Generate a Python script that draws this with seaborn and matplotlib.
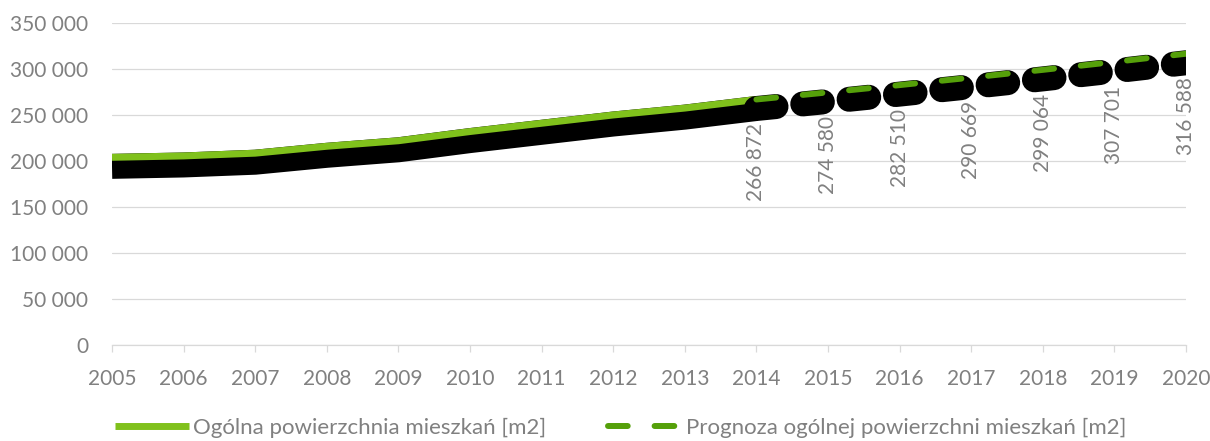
import matplotlib
matplotlib.use('Agg')
import matplotlib.pyplot as plt
import matplotlib.patheffects as pe
from matplotlib.lines import Line2D
from matplotlib.ticker import FuncFormatter
import seaborn as sns
import pandas as pd

# Data
hist_years = [2005, 2006, 2007, 2008, 2009, 2010, 2011, 2012, 2013, 2014]
hist_values = [204000, 205500, 208500, 216000, 222000, 232000, 241000, 250000, 257500, 266872]
forecast_years = [2014, 2015, 2016, 2017, 2018, 2019, 2020]
forecast_values = [266872, 274580, 282510, 290669, 299064, 307701, 316588]
year_ticks = list(range(2005, 2021))
label_hist = 'Ogólna powierzchnia mieszkań [m2]'
label_forecast = 'Prognoza ogólnej powierzchni mieszkań [m2]'

hist = pd.DataFrame({'year': hist_years, 'value': hist_values})
forecast = pd.DataFrame({'year': forecast_years, 'value': forecast_values})

sns.set_theme(style='white')
plt.rcParams['font.family'] = ['Lato', 'DejaVu Sans']

green_light = '#80C11C'
green_dark = '#55A00A'
gray_text = '#808080'
grid_color = '#d9d9d9'


def space_thousands(v, pos=None):
    return f'{int(round(v)):,}'.replace(',', ' ')


fig = plt.figure(figsize=(12.1, 4.41), dpi=100)
ax = fig.add_axes([112 / 1210, 96 / 441, 1074 / 1210, 322 / 441])

# black shadow under the lines (like the Excel effect)
sns.lineplot(data=hist, x='year', y='value', ax=ax, color=green_light, lw=5,
             solid_capstyle='butt', zorder=3,
             path_effects=[pe.Stroke(linewidth=18, foreground='black', offset=(0, -6.5)), pe.Normal()])
sns.lineplot(data=forecast, x='year', y='value', ax=ax, color=green_dark, lw=4.3,
             linestyle=(0, (3.3, 4.5)), dash_capstyle='round', zorder=4,
             path_effects=[pe.Stroke(linewidth=18, foreground='black', offset=(0, -6.5),
                                     capstyle='round'), pe.Normal()])

# data labels for the forecast
for x, y in zip(forecast_years, forecast_values):
    ax.annotate(space_thousands(y), xy=(x, y), xytext=(0, -17), textcoords='offset points',
                rotation=90, ha='center', va='top', fontsize=15, color=gray_text, zorder=5)

ax.set_xlim(2005, 2020)
ax.set_ylim(0, 350000)
ax.set_xticks(year_ticks)
ax.set_yticks(range(0, 350001, 50000))
ax.yaxis.set_major_formatter(FuncFormatter(space_thousands))
ax.set_xlabel('')
ax.set_ylabel('')

ax.grid(axis='y', color=grid_color, lw=0.9, zorder=0)
ax.grid(axis='x', visible=False)
for s in ['top', 'right', 'left']:
    ax.spines[s].set_visible(False)
ax.spines['bottom'].set_color(grid_color)
ax.spines['bottom'].set_linewidth(0.9)

ax.tick_params(axis='x', length=5, width=0.9, color=grid_color, pad=12, labelsize=15,
               labelcolor=gray_text, bottom=True)
ax.tick_params(axis='y', length=0, pad=17, labelsize=15, labelcolor=gray_text)

# legend without the shadow
handles = [Line2D([], [], color=green_light, lw=5, solid_capstyle='butt'),
           Line2D([], [], color=green_dark, lw=4.3, linestyle=(0, (3.3, 4.5)), dash_capstyle='round')]
fig.legend(handles, [label_hist, label_forecast], loc='center', bbox_to_anchor=(621 / 1210, 13 / 441),
           ncol=2, frameon=False, fontsize=16, labelcolor=gray_text, handlelength=3.3,
           handletextpad=0.2, columnspacing=2.8)

plt.savefig('out.png', dpi=100)
